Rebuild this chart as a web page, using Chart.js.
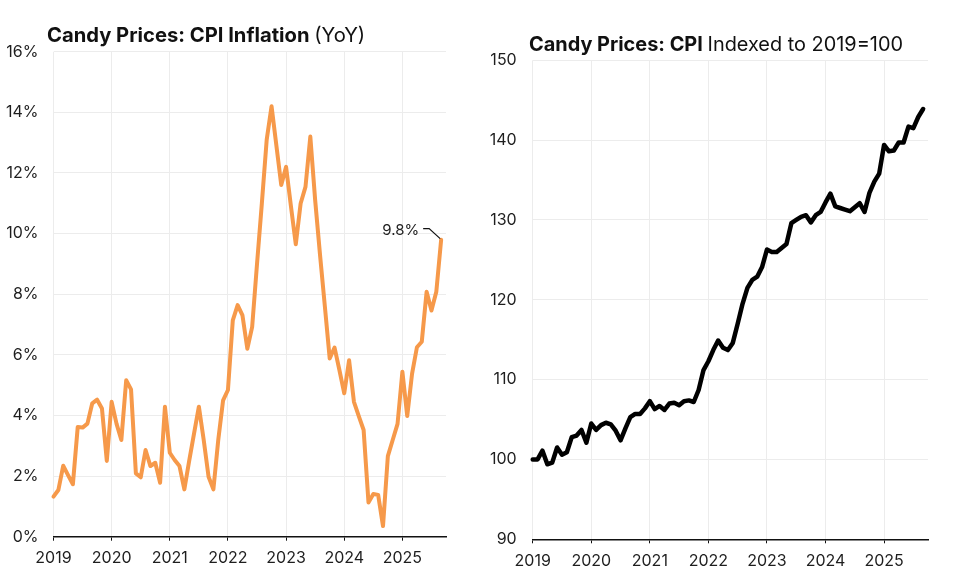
<!DOCTYPE html>
<html>
<head>
<meta charset="utf-8">
<script src="https://cdn.jsdelivr.net/npm/chart.js@4.4.1/dist/chart.umd.min.js"></script>
<style>
  html, body { margin: 0; padding: 0; background: #fff; }
  #wrap { position: relative; width: 963px; height: 579px; }
  .box { position: absolute; top: 0; }
</style>
</head>
<body>
<div id="wrap">
  <div class="box" style="left:0"><canvas id="left" width="480" height="579"></canvas></div>
  <div class="box" style="left:480px"><canvas id="right" width="483" height="579"></canvas></div>
</div>
<script>
// monthly, Jan 2019 .. Sep 2025
const startYear = 2019;
const yearTicks = [2019, 2020, 2021, 2022, 2023, 2024, 2025];

// candy CPI, year-over-year %
const inflation = [
  1.32, 1.54, 2.34, 2.03, 1.73, 3.62, 3.60, 3.73, 4.40, 4.52, 4.23, 2.50,
  4.45, 3.73, 3.19, 5.16, 4.86, 2.09, 1.96, 2.86, 2.33, 2.44, 1.78, 4.29,
  2.77, 2.53, 2.33, 1.56, 2.50, 3.40, 4.29, 3.19, 1.98, 1.56, 3.19, 4.50,
  4.84, 7.14, 7.64, 7.30, 6.20, 6.92, 9.00, 11.0, 13.1, 14.2, 12.9, 11.6,
  12.2, 10.9, 9.65, 10.99, 11.54, 13.2, 11.1, 9.30, 7.60, 5.88, 6.24, 5.50,
  4.73, 5.82, 4.45, 3.98, 3.52, 1.13, 1.41, 1.38, 0.35, 2.66, 3.19, 3.72,
  5.44, 3.98, 5.38, 6.25, 6.43, 8.08, 7.46, 8.08, 9.80
];

// candy CPI indexed to 2019 = 100
const cpiIndex = [
  100.0, 100.0, 101.1, 99.4, 99.6, 101.5, 100.6, 100.9, 102.8, 103.0, 103.7, 102.1,
  104.5, 103.7, 104.3, 104.6, 104.4, 103.6, 102.4, 103.9, 105.3, 105.7, 105.7, 106.4,
  107.3, 106.3, 106.7, 106.2, 107.0, 107.1, 106.8, 107.3, 107.4, 107.2, 108.7, 111.2,
  112.3, 113.7, 114.9, 114.0, 113.7, 114.6, 117.0, 119.5, 121.5, 122.5, 122.9, 124.1,
  126.3, 126.0, 126.0, 126.5, 127.0, 129.6, 130.0, 130.4, 130.6, 129.7, 130.6, 131.0,
  132.2, 133.3, 131.7, 131.5, 131.3, 131.1, 131.6, 132.1, 131.0, 133.4, 134.8, 135.8,
  139.4, 138.6, 138.7, 139.7, 139.7, 141.7, 141.5, 142.9, 143.9
];

const FONT = 'Inter, "Noto Sans", sans-serif';
const toPoints = arr => arr.map((v, i) => ({ x: startYear + i / 12, y: v }));

const splitTitle = {
  id: 'splitTitle',
  afterDraw(chart, args, opts) {
    const ctx = chart.ctx;
    ctx.save();
    ctx.fillStyle = '#111';
    ctx.textBaseline = 'alphabetic';
    ctx.font = `700 ${opts.size}px ${FONT}`;
    ctx.fillText(opts.bold, opts.x, opts.y);
    const w = ctx.measureText(opts.bold + ' ').width;
    ctx.font = `400 ${opts.size}px ${FONT}`;
    ctx.fillText(opts.normal, opts.x + w, opts.y);
    ctx.restore();
  }
};

const lastLabel = {
  id: 'lastLabel',
  afterDatasetsDraw(chart) {
    const meta = chart.getDatasetMeta(0);
    const pt = meta.data[meta.data.length - 1];
    const val = inflation[inflation.length - 1];
    const ctx = chart.ctx;
    ctx.save();
    ctx.strokeStyle = '#111';
    ctx.lineWidth = 1.2;
    ctx.beginPath();
    ctx.moveTo(pt.x - 18, pt.y - 11);
    ctx.lineTo(pt.x - 12, pt.y - 11);
    ctx.lineTo(pt.x - 1, pt.y - 1);
    ctx.stroke();
    ctx.fillStyle = '#222';
    ctx.font = `400 15px ${FONT}`;
    ctx.textAlign = 'right';
    ctx.textBaseline = 'middle';
    ctx.fillText(val.toFixed(1) + '%', pt.x - 22, pt.y - 9);
    ctx.restore();
  }
};

function makeChart(id, data, color, yMin, yMax, yStep, yFmt, box, title, extra) {
  return new Chart(document.getElementById(id), {
    type: 'line',
    data: {
      datasets: [{
        data: toPoints(data),
        borderColor: color,
        borderWidth: box.lw,
        pointRadius: 0,
        tension: 0,
        fill: false,
        borderJoinStyle: 'round',
        borderCapStyle: 'round',
        clip: false
      }]
    },
    options: {
      responsive: false,
      animation: false,
      layout: { padding: { left: 0, top: box.top, right: box.right, bottom: 0 } },
      plugins: {
        legend: { display: false },
        tooltip: { enabled: false },
        splitTitle: title
      },
      scales: {
        x: {
          type: 'linear',
          min: startYear,
          max: startYear + 81 / 12,
          afterBuildTicks: s => { s.ticks = yearTicks.map(v => ({ value: v })); },
          afterFit: s => { s.height = box.xh; },
          grid: { color: '#ececec', lineWidth: 1, tickColor: '#111', tickLength: 4, drawTicks: true },
          border: { display: true, color: '#111', width: 1.5 },
          ticks: { color: '#1e1e1e', font: { family: FONT, size: 16 }, padding: 8, maxRotation: 0,
                   callback: v => String(v) }
        },
        y: {
          min: yMin,
          max: yMax,
          afterFit: s => { s.width = box.yw; },
          grid: { color: '#ececec', lineWidth: 1, drawTicks: false },
          border: { display: false },
          ticks: { stepSize: yStep, color: '#1e1e1e', font: { family: FONT, size: 16 }, padding: box.ypad,
                   callback: yFmt }
        }
      }
    },
    plugins: [splitTitle].concat(extra)
  });
}

makeChart('left', inflation, '#f6994a', 0, 16, 2, v => v + '%',
  { top: 51.7, right: 34, xh: 42.3, yw: 53.5, ypad: 15, lw: 4 },
  { bold: 'Candy Prices: CPI Inflation', normal: '(YoY)', x: 47, y: 41.5, size: 20.2 },
  [lastLabel]);

makeChart('right', cpiIndex, '#000000', 90, 150, 10, v => String(v),
  { top: 60.3, right: 35, xh: 39.7, yw: 52.7, ypad: 16, lw: 4.5 },
  { bold: 'Candy Prices: CPI', normal: 'Indexed to 2019=100', x: 49, y: 50.5, size: 19.9 },
  []);
</script>
</body>
</html>
